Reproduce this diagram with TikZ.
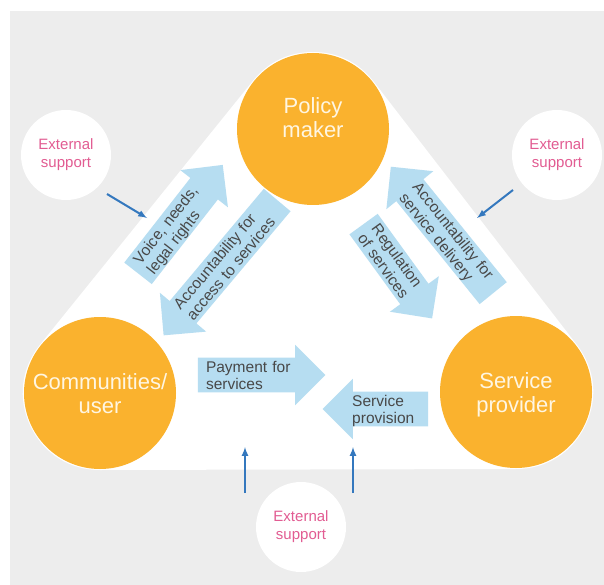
\documentclass[tikz,border=0pt]{standalone}
\usepackage{fontspec}
\setmainfont{Liberation Sans}
\usepackage{tikz}
\usetikzlibrary{shapes,arrows,positioning,calc,backgrounds}

\definecolor{panelgray}{RGB}{237,237,237}
\definecolor{actor}{RGB}{250,178,46}
\definecolor{actortext}{RGB}{255,246,226}
\definecolor{flowblue}{RGB}{182,221,241}
\definecolor{flowtext}{RGB}{72,72,72}
\definecolor{supportpink}{RGB}{226,92,146}
\definecolor{pushblue}{RGB}{52,120,190}

\begin{document}
\begin{tikzpicture}[
    x=1pt, y=-1pt,
    party/.style={circle, fill=actor, minimum size=152pt, inner sep=0pt, text=actortext,
        text width=136pt, align=center, font=\fontsize{22}{24}\selectfont,
        text height=16pt, text depth=24pt},
    support/.style={circle, fill=white, minimum size=90pt, inner sep=0pt,
        text=supportpink, align=center, font=\fontsize{15}{18}\selectfont},
    flow/.style={single arrow, fill=flowblue, text=flowtext, single arrow head extend=12.75pt,
        single arrow head indent=0pt, single arrow tip angle=90, inner xsep=8pt, inner ysep=2.75pt,
        align=left, font=\fontsize{15.5}{17}\selectfont, text height=11.5pt, text depth=17.5pt},
    push/.style={->, draw=pushblue, line width=2pt},
    >=latex
]
    \useasboundingbox (0,0) rectangle (604,585);
    \fill[white] (0,0) rectangle (604,585);
    \fill[panelgray] (10,11) rectangle (604,585);

    \coordinate (pm) at (313,129);
    \coordinate (cu) at (100,393);
    \coordinate (sp) at (516,392);
    \filldraw[white, line width=154pt, line join=round] (pm) -- (cu) -- (sp) -- cycle;

    \node[party, text depth=46pt] (policy) at (pm) {Policy\\maker};
    \node[party] (users) at (cu) {Communities/\\user};
    \node[party] (provider) at (sp) {Service\\provider};

    \node[support] (extL) at (66,155) {External\\support};
    \node[support] (extR) at (557,155) {External\\support};
    \node[support] (extB) at (301,527) {External\\support};

    \node[flow, text width=103.75pt, rotate=52] (voice) at (175,226) {Voice, needs,\\legal rights};
    \node[flow, text width=134pt, inner xsep=12.4pt, rotate=50, shape border rotate=180]
        (access) at (226,261) {Accountability for\\access to services};
    \node[flow, text width=121pt, inner xsep=11.9pt, rotate=-51, shape border rotate=180]
        (delivery) at (447.5,236.7) {Accountability for\\service delivery};
    \node[flow, text width=82.75pt, rotate=-54] (regulation) at (392.7,264.2) {Regulation\\of services};
    \node[flow, text width=93.75pt] (payment) at (252.9,375) {Payment for\\services};
    \node[flow, text width=63.75pt, inner xsep=12pt, shape border rotate=180]
        (provision) at (384.1,409) {Service\\provision};

    \coordinate (voiceFrom) at (107,194);
    \coordinate (voiceTo) at (147,218);
    \coordinate (deliveryFrom) at (513,190);
    \coordinate (deliveryTo) at (477,218);
    \coordinate (paymentFrom) at (245,493);
    \coordinate (paymentTo) at (245,447);
    \coordinate (provisionFrom) at (353,493);
    \coordinate (provisionTo) at (353,447);

    \draw[push] (voiceFrom) -- (voiceTo);
    \draw[push] (deliveryFrom) -- (deliveryTo);
    \draw[push] (paymentFrom) -- (paymentTo);
    \draw[push] (provisionFrom) -- (provisionTo);
\end{tikzpicture}
\end{document}
